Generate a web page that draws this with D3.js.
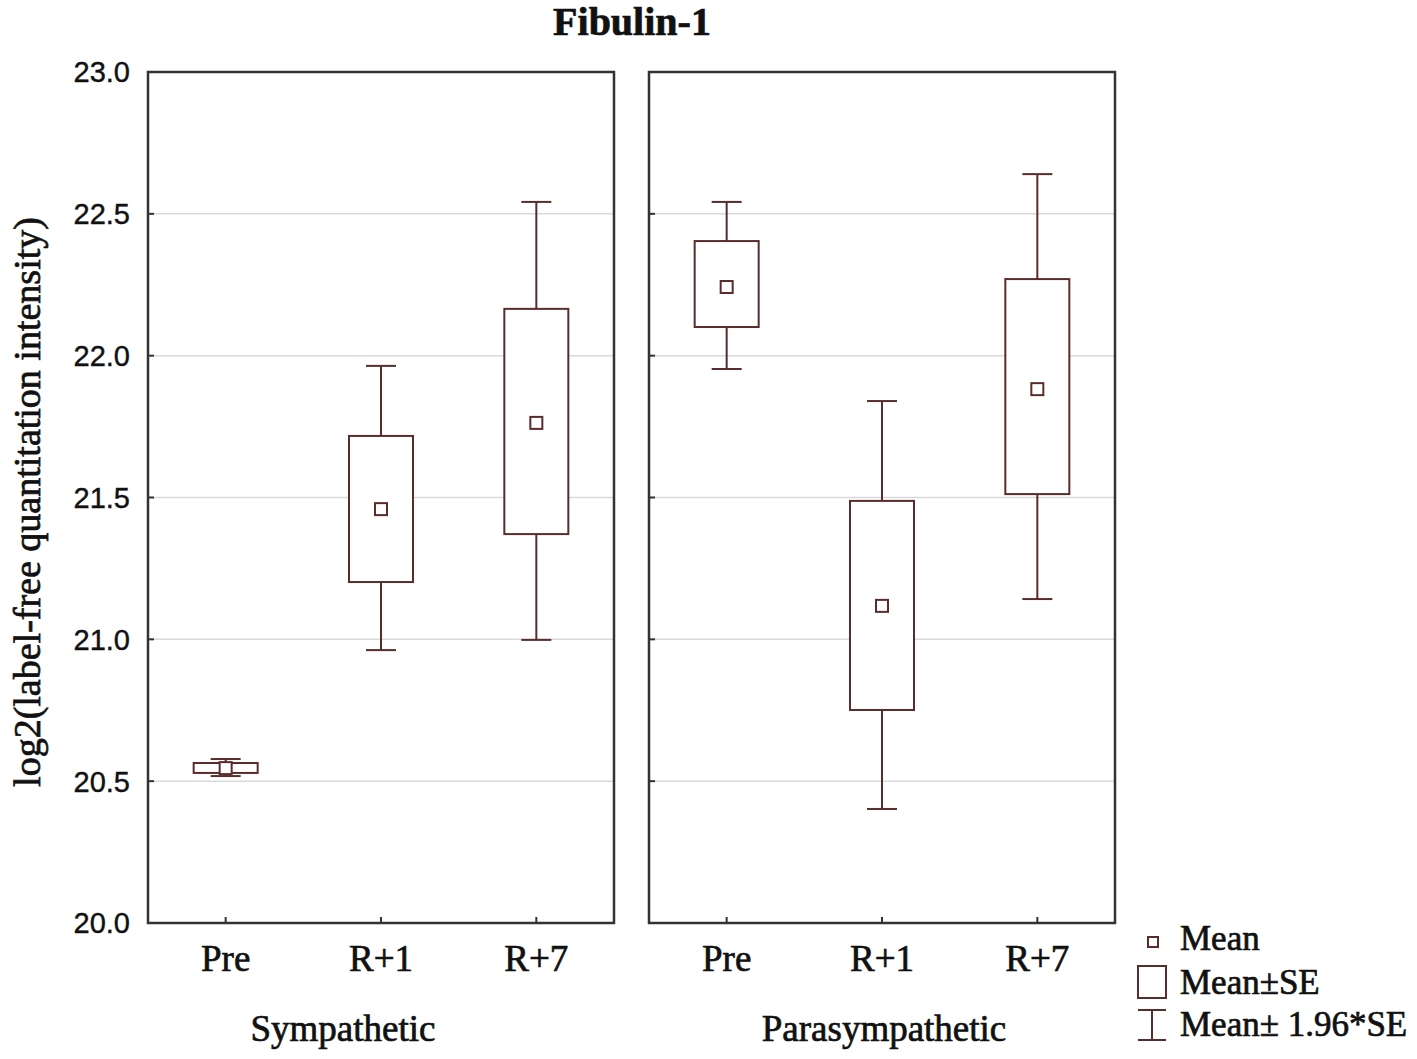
<!doctype html>
<html>
  <head>
    <script src="https://cdnjs.cloudflare.com/ajax/libs/d3/7.8.5/d3.min.js"></script>
    <style>
      body { margin: 0; background: #fff; }
      svg { display: block; }
      .serif { font-family: "Liberation Serif", "Times New Roman", serif; fill: #111; stroke: #111; stroke-width: 0.7px; }
      .tick-lab { font-family: "Liberation Sans", Arial, sans-serif; fill: #111; stroke: #111; stroke-width: 0.4px; }
    </style>
  </head>
  <body>
    <svg id="chart" width="1417" height="1059"></svg>
    <script>
      // data
      var groups = ["Sympathetic", "Parasympathetic"];
      var times = ["Pre", "R+1", "R+7"];
      var meanVals = [[20.546, 21.459, 21.763], [22.242, 21.118, 21.882]];
      var seLow    = [[20.529, 21.202, 21.371], [22.101, 20.751, 21.512]];
      var seHigh   = [[20.564, 21.717, 22.165], [22.404, 21.488, 22.270]];
      var ciLow    = [[20.518, 20.962, 20.998], [21.953, 20.402, 21.142]];
      var ciHigh   = [[20.578, 21.964, 22.542], [22.542, 21.840, 22.640]];
      var yTicks = [20.0, 20.5, 21.0, 21.5, 22.0, 22.5, 23.0];

      var svg = d3.select("#chart");
      var boxCol = "#5a2c2c", frameCol = "#333";

      var plotTop = 72, plotBottom = 923;
      var panels = [{x0: 148, x1: 614, labelShift: -38}, {x0: 649, x1: 1115, labelShift: 2}];

      var y = d3.scaleLinear().domain([20, 23]).range([plotBottom, plotTop]);

      // title
      svg.append("text").attr("class", "serif")
        .attr("x", 632).attr("y", 35)
        .attr("text-anchor", "middle")
        .style("font-size", "40px").style("font-weight", "bold")
        .text("Fibulin-1");

      // y axis label
      svg.append("text").attr("class", "serif")
        .attr("transform", "translate(40,502) rotate(-90)")
        .attr("text-anchor", "middle")
        .style("font-size", "38px")
        .text("log2(label-free quantitation intensity)");

      // tick labels on the left
      svg.selectAll(".tick-lab").data(yTicks).enter()
        .append("text").attr("class", "tick-lab")
        .attr("x", 130).attr("y", d => y(d))
        .attr("dy", "0.36em")
        .attr("text-anchor", "end")
        .style("font-size", "29px")
        .text(d => d3.format(".1f")(d));

      groups.forEach(function(g, gi) {
        var p = panels[gi];
        var x = d3.scalePoint().domain(times).range([p.x0, p.x1]).padding(0.5);
        var pg = svg.append("g");

        // grid
        pg.selectAll(".grid").data(yTicks.slice(1, -1)).enter()
          .append("line")
          .attr("x1", p.x0).attr("x2", p.x1)
          .attr("y1", d => y(d)).attr("y2", d => y(d))
          .attr("stroke", "#d9d9d9").attr("stroke-width", 1.5);

        // inward ticks
        pg.selectAll(".yt").data(yTicks).enter()
          .append("line")
          .attr("x1", p.x0).attr("x2", p.x0 + 6)
          .attr("y1", d => y(d)).attr("y2", d => y(d))
          .attr("stroke", frameCol).attr("stroke-width", 2);
        pg.selectAll(".xt").data(times).enter()
          .append("line")
          .attr("x1", d => x(d)).attr("x2", d => x(d))
          .attr("y1", plotBottom).attr("y2", plotBottom - 6)
          .attr("stroke", frameCol).attr("stroke-width", 2);

        // frame
        pg.append("rect")
          .attr("x", p.x0).attr("y", plotTop)
          .attr("width", p.x1 - p.x0).attr("height", plotBottom - plotTop)
          .attr("fill", "none").attr("stroke", frameCol).attr("stroke-width", 2.5);

        var rows = times.map((t, i) => ({
          t: t, mean: meanVals[gi][i], seL: seLow[gi][i], seH: seHigh[gi][i],
          ciL: ciLow[gi][i], ciH: ciHigh[gi][i]
        }));

        var bw = 64, cw = 30, ms = 12;
        var b = pg.selectAll(".box").data(rows).enter().append("g");

        // whiskers
        b.append("line")
          .attr("x1", d => x(d.t)).attr("x2", d => x(d.t))
          .attr("y1", d => y(d.ciH)).attr("y2", d => y(d.ciL))
          .attr("stroke", boxCol).attr("stroke-width", 2);
        b.append("line")
          .attr("x1", d => x(d.t) - cw / 2).attr("x2", d => x(d.t) + cw / 2)
          .attr("y1", d => y(d.ciH)).attr("y2", d => y(d.ciH))
          .attr("stroke", boxCol).attr("stroke-width", 2);
        b.append("line")
          .attr("x1", d => x(d.t) - cw / 2).attr("x2", d => x(d.t) + cw / 2)
          .attr("y1", d => y(d.ciL)).attr("y2", d => y(d.ciL))
          .attr("stroke", boxCol).attr("stroke-width", 2);

        // SE box
        b.append("rect")
          .attr("x", d => x(d.t) - bw / 2).attr("width", bw)
          .attr("y", d => y(d.seH)).attr("height", d => y(d.seL) - y(d.seH))
          .attr("fill", "#fff").attr("stroke", boxCol).attr("stroke-width", 2);

        // mean
        b.append("rect")
          .attr("x", d => x(d.t) - ms / 2).attr("y", d => y(d.mean) - ms / 2)
          .attr("width", ms).attr("height", ms)
          .attr("fill", "#fff").attr("stroke", boxCol).attr("stroke-width", 2);

        // category labels
        pg.selectAll(".cat").data(times).enter()
          .append("text").attr("class", "serif")
          .attr("x", d => x(d)).attr("y", 971)
          .attr("text-anchor", "middle")
          .style("font-size", "37px")
          .text(d => d);

        pg.append("text").attr("class", "serif")
          .attr("x", (p.x0 + p.x1) / 2 + p.labelShift).attr("y", 1041)
          .attr("text-anchor", "middle")
          .style("font-size", "37px")
          .text(g);
      });

      // legend
      var lg = svg.append("g");
      var legLabels = ["Mean", "Mean\u00b1SE", "Mean\u00b1 1.96*SE"];
      var legY = [950, 994, 1036];
      lg.append("rect").attr("x", 1148).attr("y", 937).attr("width", 10).attr("height", 10)
        .attr("fill", "#fff").attr("stroke", boxCol).attr("stroke-width", 2);
      lg.append("rect").attr("x", 1138).attr("y", 966).attr("width", 28).attr("height", 32)
        .attr("fill", "#fff").attr("stroke", boxCol).attr("stroke-width", 2);
      lg.append("line").attr("x1", 1138).attr("x2", 1166).attr("y1", 1010).attr("y2", 1010)
        .attr("stroke", boxCol).attr("stroke-width", 2);
      lg.append("line").attr("x1", 1152).attr("x2", 1152).attr("y1", 1010).attr("y2", 1040)
        .attr("stroke", boxCol).attr("stroke-width", 2);
      lg.append("line").attr("x1", 1138).attr("x2", 1166).attr("y1", 1040).attr("y2", 1040)
        .attr("stroke", boxCol).attr("stroke-width", 2);
      lg.selectAll(".leg").data(legLabels).enter()
        .append("text").attr("class", "serif")
        .attr("x", 1180).attr("y", (d, i) => legY[i])
        .style("font-size", "35px")
        .text(d => d);
    </script>
  </body>
</html>
